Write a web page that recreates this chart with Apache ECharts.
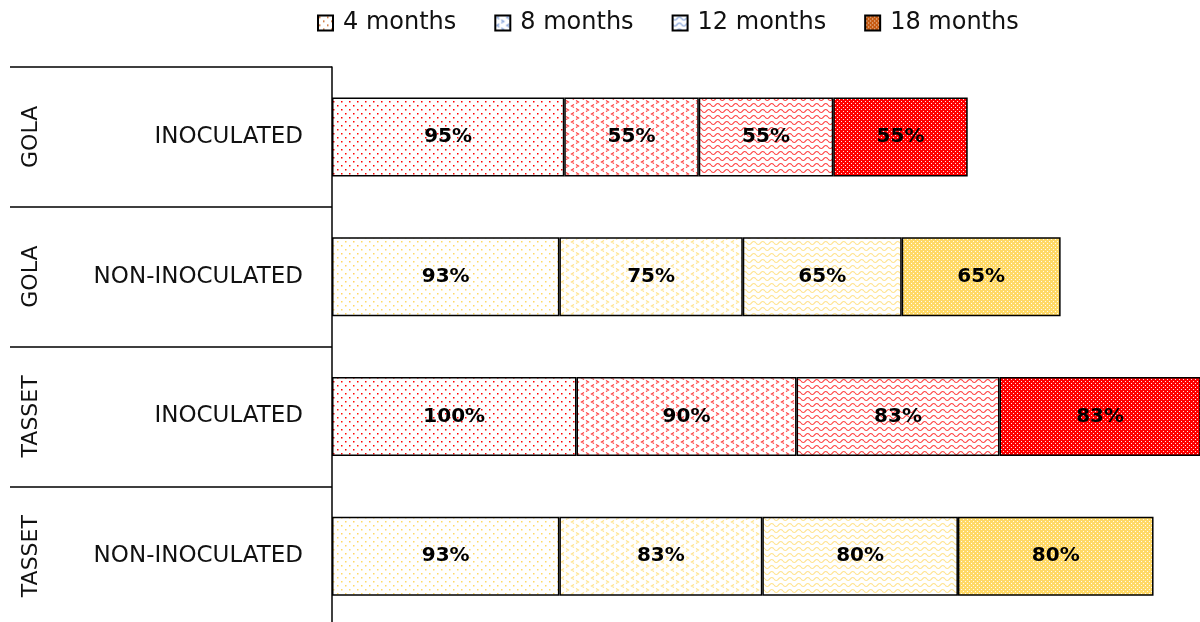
<!DOCTYPE html>
<html>
<head>
<meta charset="utf-8">
<script src="https://cdn.jsdelivr.net/npm/echarts@6/dist/echarts.min.js"></script>
<style>
  html, body { margin: 0; padding: 0; background: #fff; }
  #chart { width: 1200px; height: 622px; }
</style>
</head>
<body>
<div id="chart"></div>
<script>
// data
const groups = ['GOLA', 'GOLA', 'TASSET', 'TASSET'];
const treatments = ['INOCULATED', 'NON-INOCULATED', 'INOCULATED', 'NON-INOCULATED'];
const seriesNames = ['4 months', '8 months', '12 months', '18 months'];
const m4 = [95, 93, 100, 93];
const m8 = [55, 75, 90, 83];
const m12 = [55, 65, 83, 80];
const m18 = [55, 65, 83, 80];

const RED = '#ff0000';
const YELLOW = '#ffd966';
const rowColors = [RED, YELLOW, RED, YELLOW];
const kinds = ['dots', 'chevron', 'wave', 'dense'];
const legendColors = ['#c55a11', '#4472c4', '#4472c4', '#c55a11'];

// pattern tiles drawn on small canvases
const cache = {};
function pattern(kind, color) {
  const key = kind + color;
  if (cache[key]) return cache[key];
  const c = document.createElement('canvas');
  const ctx = c.getContext('2d');
  if (kind === 'dots') {
    c.width = 8; c.height = 8;
    ctx.fillStyle = '#fff'; ctx.fillRect(0, 0, 8, 8);
    ctx.fillStyle = color;
    ctx.fillRect(1, 1, 1.5, 1.5);
    ctx.fillRect(5, 5, 1.5, 1.5);
  } else if (kind === 'chevron') {
    c.width = 10; c.height = 8;
    ctx.fillStyle = '#fff'; ctx.fillRect(0, 0, 10, 8);
    ctx.strokeStyle = color; ctx.lineWidth = 1.2;
    ctx.globalAlpha = 0.75;
    ctx.beginPath();
    ctx.moveTo(4, 0.5); ctx.lineTo(1.5, 2); ctx.lineTo(4, 3.5);
    ctx.moveTo(6, 4.5); ctx.lineTo(8.5, 6); ctx.lineTo(6, 7.5);
    ctx.stroke();
  } else if (kind === 'wave') {
    c.width = 9; c.height = 6;
    ctx.fillStyle = '#fff'; ctx.fillRect(0, 0, 9, 6);
    ctx.strokeStyle = color; ctx.lineWidth = 1.1;
    ctx.globalAlpha = 0.7;
    ctx.beginPath();
    for (let x = 0; x <= 9; x += 0.5) {
      const y = 3 + 1.5 * Math.sin(x / 9 * Math.PI * 2);
      if (x === 0) ctx.moveTo(x, y); else ctx.lineTo(x, y);
    }
    ctx.stroke();
  } else {
    c.width = 4; c.height = 4;
    ctx.fillStyle = color; ctx.fillRect(0, 0, 4, 4);
    ctx.fillStyle = 'rgba(255,255,255,0.9)';
    ctx.fillRect(1, 1, 1, 1);
    ctx.fillRect(3, 3, 1, 1);
  }
  cache[key] = { image: c, repeat: 'repeat' };
  return cache[key];
}

const allValues = [m4, m8, m12, m18];
const rowKeys = groups.map((g, i) => g + '|' + treatments[i]);

const series = seriesNames.map((name, s) => ({
  name: name,
  type: 'bar',
  stack: 'total',
  barWidth: 79,
  itemStyle: { color: pattern(kinds[s], legendColors[s]), borderColor: '#000', borderWidth: 1.5 },
  label: {
    show: true,
    position: 'inside',
    formatter: '{c}%',
    color: '#000',
    fontFamily: 'DejaVu Sans',
    fontWeight: 'bold',
    fontSize: 20
  },
  data: allValues[s].map((v, i) => ({
    value: v,
    itemStyle: { color: pattern(kinds[s], rowColors[i]) }
  }))
}));

const chart = echarts.init(document.getElementById('chart'));
chart.setOption({
  animation: false,
  legend: {
    top: 6,
    left: 312,
    itemWidth: 15,
    itemHeight: 15,
    itemGap: 38,
    icon: 'rect',
    textStyle: { fontFamily: 'DejaVu Sans', fontSize: 24, color: '#111', padding: [0, 0, 0, 5] },
    data: seriesNames
  },
  grid: { left: 332, right: 0, top: 67, height: 559, outerBoundsMode: 'none' },
  xAxis: { type: 'value', min: 0, max: 355, show: false },
  yAxis: [
    {
      type: 'category',
      inverse: true,
      data: rowKeys,
      axisLine: { show: true, lineStyle: { color: '#000', width: 1.5 } },
      axisTick: { show: true, length: 322, lineStyle: { color: '#000', width: 1.5 } },
      axisLabel: {
        margin: 29,
        fontFamily: 'DejaVu Sans',
        fontSize: 23,
        color: '#111',
        formatter: v => v.split('|')[1]
      }
    },
    {
      type: 'category',
      inverse: true,
      position: 'left',
      data: rowKeys,
      axisLine: { show: false },
      axisTick: { show: false },
      axisLabel: {
        rotate: 90,
        margin: 290,
        fontFamily: 'DejaVu Sans',
        fontSize: 22,
        color: '#111',
        formatter: v => v.split('|')[0]
      }
    }
  ],
  series: series
});
</script>
</body>
</html>
